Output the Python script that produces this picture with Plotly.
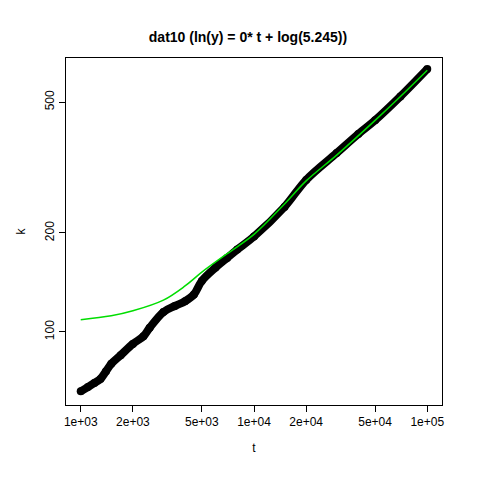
import plotly.graph_objects as go

t_obs = [1000, 1100, 1200, 1300, 1400, 1500, 1700, 2000, 2300, 2500, 3000, 3500, 4000, 4500, 5000, 6000, 7000, 8000, 10000, 15000, 20000, 30000, 40000, 50000, 70000, 100000]
k_obs = [66, 68, 70, 72, 76, 80, 85, 92, 97, 103, 115, 120, 124, 130, 143, 157, 168, 178, 195, 240, 290, 350, 400, 440, 520, 630]
t_fit = [1000, 1500, 2000, 3000, 4000, 5000, 7000, 10000, 15000, 20000, 30000, 50000, 70000, 100000]
k_fit = [109, 112, 116, 125, 138, 152, 173, 198, 245, 288, 345, 440, 520, 625]

fig = go.Figure()
fig.add_trace(go.Scatter(x=t_obs, y=k_obs, mode="lines+markers", line=dict(color="black", width=8, shape="spline"),
                         marker=dict(color="black", size=8)))
fig.add_trace(go.Scatter(x=t_fit, y=k_fit, mode="lines", line=dict(color="#00dd00", width=1.5, shape="spline", smoothing=1.0)))

ax = dict(showgrid=False, zeroline=False, showline=True, mirror=True, linecolor="black",
          ticks="outside", tickcolor="black", ticklen=6, tickfont=dict(family="Liberation Sans", size=12, color="black"))
fig.update_layout(
    width=480, height=480, plot_bgcolor="white", paper_bgcolor="white", showlegend=False,
    margin=dict(l=51, r=46, t=50, b=83),
    title=dict(text="<b>dat10 (ln(y) = 0* t + log(5.245))</b>", x=0.5, xanchor="center", y=0.95,
               font=dict(family="Liberation Sans", size=14, color="black")),
    font=dict(family="Liberation Sans", color="black"),
)
fig.update_xaxes(type="log", range=[2.915, 5.085], tickvals=[1000, 2000, 5000, 10000, 20000, 50000, 100000],
                 ticktext=["1e+03", "2e+03", "5e+03", "1e+04", "2e+04", "5e+04", "1e+05"],
                 title=dict(text="t", font=dict(size=12)), **ax)
fig.update_yaxes(type="log", range=[1.778, 2.833], tickvals=[100, 200, 500], ticktext=["100", "200", "500"],
                 tickangle=-90, title=dict(text="k", font=dict(size=12)), **ax)
fig.write_html("out.html")
